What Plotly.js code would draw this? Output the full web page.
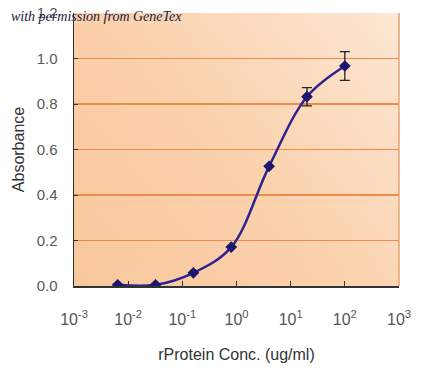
<!DOCTYPE html>
<html>
<head>
<meta charset="utf-8">
<script src="https://cdn.plot.ly/plotly-3.0.1.min.js"></script>
<style>html,body{margin:0;padding:0;background:#fff;}</style>
</head>
<body>
<div id="chart" style="width:426px;height:378px;"></div>
<script>
// Data
const concentration = [0.0064, 0.032, 0.16, 0.8, 4, 20, 100];
const absorbance = [0.005, 0.005, 0.058, 0.171, 0.526, 0.832, 0.967];
const errorValues = [0, 0, 0, 0, 0, 0.04, 0.063];
const tickValues = [0.001, 0.01, 0.1, 1, 10, 100, 1000];
const tickLabels = ['10<sup>-3</sup>', '10<sup>-2</sup>', '10<sup>-1</sup>', '10<sup>0</sup>', '10<sup>1</sup>', '10<sup>2</sup>', '10<sup>3</sup>'];
const yTickValues = [0, 0.2, 0.4, 0.6, 0.8, 1.0, 1.2];
const yTickLabels = ['0.0', '0.2', '0.4', '0.6', '0.8', '1.0', '1.2'];

// gradient background image
const cv = document.createElement('canvas');
cv.width = 325; cv.height = 272;
const ctx = cv.getContext('2d');
const g = ctx.createLinearGradient(0, 272, 325, 0);
g.addColorStop(0, '#F9C79C');
g.addColorStop(0.5, '#FBD2AE');
g.addColorStop(1, '#FDE7D4');
ctx.fillStyle = g;
ctx.fillRect(0, 0, 325, 272);
const bgURL = cv.toDataURL('image/png');

const trace = {
  x: concentration,
  y: absorbance,
  type: 'scatter',
  mode: 'lines+markers',
  line: {shape: 'spline', smoothing: 1, color: '#2E2390', width: 2.5},
  marker: {symbol: 'diamond', size: 9, color: '#1C1670'},
  error_y: {type: 'data', array: errorValues, visible: true, color: '#222', thickness: 1.3, width: 5},
  hoverinfo: 'none'
};

const layout = {
  width: 426, height: 378,
  margin: {l: 74, r: 27, t: 13, b: 92},
  paper_bgcolor: '#ffffff',
  plot_bgcolor: 'rgba(0,0,0,0)',
  showlegend: false,
  font: {family: 'Liberation Sans, Arial, sans-serif', size: 15, color: '#595959'},
  xaxis: {
    type: 'log', range: [-3, 3],
    tickmode: 'array', tickvals: tickValues, ticktext: tickLabels,
    ticks: 'inside', ticklen: 5, tickcolor: '#333', tickwidth: 1,
    showline: true, linecolor: '#333', linewidth: 1.5,
    showgrid: false, zeroline: false,
    ticklabelstandoff: 18,
    tickfont: {size: 16, color: '#555'},
    title: {text: 'rProtein Conc. (ug/ml)', font: {size: 16, color: '#333'}, standoff: 22}
  },
  yaxis: {
    range: [0, 1.2],
    tickmode: 'array', tickvals: yTickValues, ticktext: yTickLabels,
    ticks: 'inside', ticklen: 4, tickcolor: '#333',
    showline: true, linecolor: '#3a2a20', linewidth: 1.5,
    showgrid: true, gridcolor: '#EC8C48', gridwidth: 1.5,
    zeroline: false,
    ticklabelstandoff: 12,
    tickfont: {size: 15, color: '#595959'},
    title: {text: 'Absorbance', font: {size: 16, color: '#333'}, standoff: 8}
  },
  images: [{
    source: bgURL, xref: 'paper', yref: 'paper', x: 0, y: 1, sizex: 1, sizey: 1,
    sizing: 'stretch', xanchor: 'left', yanchor: 'top', layer: 'below'
  }],
  shapes: [{
    type: 'line', xref: 'paper', yref: 'paper', x0: 1, x1: 1, y0: 0, y1: 1,
    line: {color: '#E8A070', width: 1.5}
  }],
  annotations: [{
    text: 'with permission from GeneTex', xref: 'paper', yref: 'paper',
    x: -0.2, y: 0.988, xanchor: 'left', yanchor: 'middle', showarrow: false,
    font: {family: 'Liberation Serif, serif', size: 14, color: '#1a1a40', style: 'italic'}
  }]
};

Plotly.newPlot('chart', [trace], layout, {displayModeBar: false, staticPlot: true});
</script>
</body>
</html>
